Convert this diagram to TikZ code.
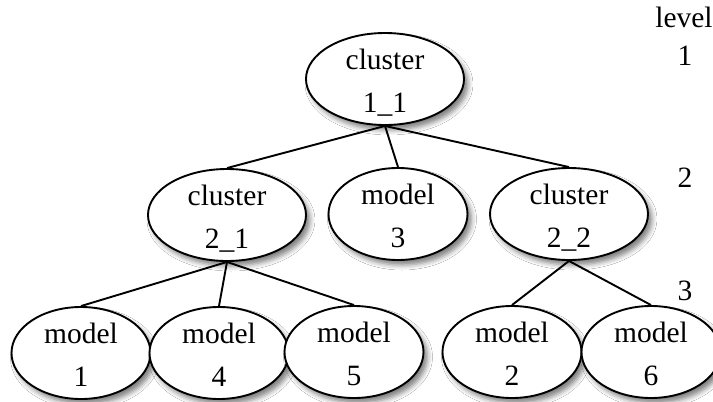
\documentclass[tikz,border=0pt]{standalone}
\usepackage{fontspec}
\setmainfont{Liberation Serif}
\usetikzlibrary{shapes.geometric,shadows.blur}

\tikzset{
  treenode/.style={
    ellipse, draw=black, line width=1.9pt, fill=white,
    inner sep=0pt, minimum height=92pt,
    blur shadow={shadow xshift=4pt, shadow yshift=-5pt,
                 shadow blur radius=5pt, shadow opacity=50}
  },
  clusternode/.style={treenode, minimum width=158pt},
  modelnode/.style={treenode, minimum width=139pt},
  nodetext/.style={anchor=base, inner sep=0pt,
    font=\fontsize{29.5}{34}\selectfont},
  edge/.style={draw=black, line width=1.9pt},
  levellabel/.style={nodetext}
}

% an ellipse with two centred lines of text:
% #1 style, #2 name, #3 position, #4 first line, #5 second line
\newcommand\TreeNode[5]{%
  \node[#1] (#2) at (#3) {};
  \node[nodetext] (#2-top) at ([yshift=10pt]#2.center) {#4};
  \node[nodetext] (#2-bot) at ([yshift=-33pt]#2.center) {#5};
}

\begin{document}
\begin{tikzpicture}[x=1pt, y=-1pt]
  \clip (0,0) rectangle (713,402);
  \fill[white] (0,0) rectangle (713,402);

  % level 1
  \TreeNode{clusternode}{c11}{385,79}{cluster}{1\_1}

  % level 2
  \TreeNode{clusternode}{c21}{227,215}{cluster}{2\_1}
  \TreeNode{modelnode}{m3}{398,214}{model}{3}
  \TreeNode{clusternode}{c22}{569,214}{cluster}{2\_2}

  % level 3
  \TreeNode{modelnode}{m1}{81,353}{model}{1}
  \TreeNode{modelnode}{m4}{219,353}{model}{4}
  \TreeNode{modelnode}{m5}{354,352}{model}{5}
  \TreeNode{modelnode}{m2}{512,352}{model}{2}
  \TreeNode{modelnode}{m6}{651,352}{model}{6}

  % tree edges
  \draw[edge] (c11.south) -- (c21.north);
  \draw[edge] (c11.south) -- (m3.north);
  \draw[edge] (c11.south) -- (c22.north);
  \draw[edge] (c21.south) -- (m1.north);
  \draw[edge] (c21.south) -- (m4.north);
  \draw[edge] (c21.south) -- (m5.north);
  \draw[edge] (c22.south) -- (m2.north);
  \draw[edge] (c22.south) -- (m6.north);

  % level column
  \node[levellabel] (lvl)  at (684,27)  {level};
  \node[levellabel] (lvl1) at (685,65)  {1};
  \node[levellabel] (lvl2) at (685,187) {2};
  \node[levellabel] (lvl3) at (685,300) {3};
\end{tikzpicture}
\end{document}
